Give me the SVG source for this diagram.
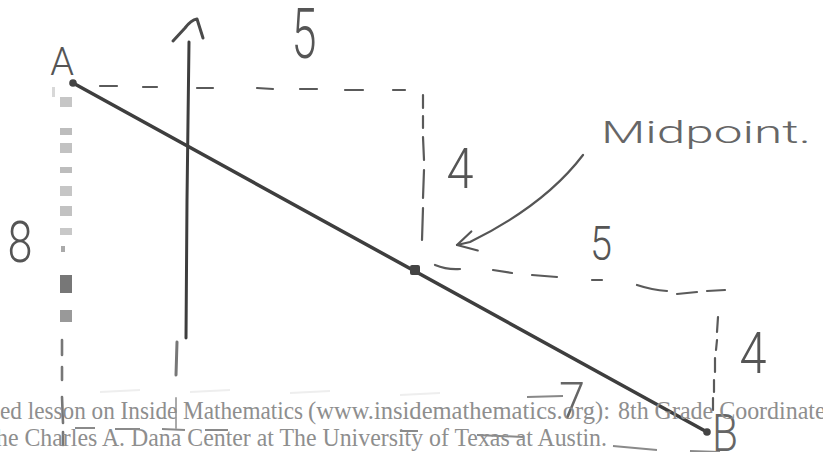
<svg xmlns="http://www.w3.org/2000/svg" width="823" height="452" viewBox="0 0 823 452">
  <style>
    .hand { font-family: Roboto, "Open Sans", "Liberation Sans", sans-serif; font-weight: 300; fill: #555; text-anchor: middle; }
    .soft { fill: #666; }
    .start { text-anchor: start; }
    .wm { font-family: "Liberation Serif", serif; font-size: 25px; fill: #8e8e8e; }
    .seg { fill: none; stroke: #3e3e3e; stroke-width: 3.5; stroke-linecap: round; }
    .dash { fill: none; stroke: #5a5a5a; stroke-width: 2.2; stroke-linecap: round; }
    .pt { fill: #444; }
    .blk { stroke: none; }
  </style>
  <defs>
    <marker id="chev" viewBox="0 0 24 26" refX="21" refY="12" markerWidth="24" markerHeight="26" markerUnits="userSpaceOnUse" orient="auto">
      <path d="M2,2 L21,12 L4,22" fill="none" stroke="#555" stroke-width="2.2" stroke-linecap="round" stroke-linejoin="round"/>
    </marker>
  </defs>
  <rect width="823" height="452" fill="#ffffff"/>

  <!-- left side "8" guide: dashed vertical -->
  <g id="left-guide">
    <rect class="blk" x="52" y="87" width="3" height="10" fill="#d8d8d8"/>
    <rect class="blk" x="60" y="97" width="12" height="10" fill="#c6c6c6"/>
    <rect class="blk" x="60" y="128" width="12" height="7" fill="#bdbdbd"/>
    <rect class="blk" x="60" y="143" width="12" height="10" fill="#c2c2c2"/>
    <rect class="blk" x="60" y="167" width="12" height="6" fill="#bdbdbd"/>
    <rect class="blk" x="60" y="186" width="12" height="10" fill="#c6c6c6"/>
    <rect class="blk" x="60" y="206" width="12" height="10" fill="#c2c2c2"/>
    <rect class="blk" x="60" y="228" width="12" height="7" fill="#c8c8c8"/>
    <rect class="blk" x="61" y="246" width="4" height="6" fill="#aaa"/>
    <rect class="blk" x="60" y="275" width="12" height="18" fill="#777"/>
    <rect class="blk" x="60" y="310" width="12" height="12" fill="#999"/>
    <path class="dash" d="M62,340 L62,355 M62,367 L62,380 M62,397 L63,423 M63,432 L63,445" style="stroke:#777;stroke-width:2.6"/>
    <text class="hand" x="20" y="262" font-size="58" textLength="25" lengthAdjust="spacingAndGlyphs">8</text>
  </g>

  <!-- vertical axis with arrow -->
  <g id="axis">
    <path class="seg" d="M189,42 L187,200 L186,338" style="stroke-width:3"/>
    <path class="seg" d="M177,342 L176,375" style="stroke:#777;stroke-width:3"/>
    <path class="seg" d="M176,398 L176,428" style="stroke:#aaa;stroke-width:2"/>
    <path d="M173,41 L185,28 Q191,20 197,19 L203,38" fill="none" stroke="#4a4a4a" stroke-width="3" stroke-linecap="round" stroke-linejoin="round"/>
  </g>

  <!-- faint lower marks -->
  <g id="faint">
    <path d="M100,392 L140,390 M190,392 L230,390 M290,393 L330,391 M400,395 L440,393" fill="none" stroke="#eeeeee" stroke-width="2"/>
    <path d="M527,397 L563,396" fill="none" stroke="#888" stroke-width="2"/>
    <path d="M75,428 L95,428 M115,429 L140,429 M162,429 L185,430 M205,430 L228,430 M400,431 L418,431 M477,435 L523,437 M613,446 L657,450 M690,451 L720,452" fill="none" stroke="#8a8a8a" stroke-width="2"/>
  </g>

  <!-- connectors: dashed guides and curved arrow -->
  <g id="connectors">
    <path class="dash" d="M100,86 L117,86 M143,87 L157,87 M197,88 L213,88 M257,88 L273,89 M300,89 L317,89 M345,90 L363,90 M393,90 L405,90"/>
    <path class="dash" d="M423,95 L423,108 M423,116 L423,128 M423,137 L424,160 M424,170 L423,198 M423,208 L422,240"/>
    <path class="dash" d="M435,265 Q447,270 460,269 M493,270 L512,273 M532,275 L557,277 M592,280 L602,280 M637,285 Q652,290 667,291 M677,294 L697,292 M707,291 L725,290"/>
    <path class="dash" d="M718,317 L717,332 M717,340 L716,350 M715,358 L715,372 M714,380 L714,392 M713,398 L713,410"/>
    <path d="M583,155 Q545,205 470,242 L457,245" fill="none" stroke="#555" stroke-width="2.2" stroke-linecap="round" marker-end="url(#chev)"/>
  </g>

  <!-- segment AB -->
  <g id="segment-AB">
    <line class="seg" x1="73" y1="83" x2="707" y2="432"/>
  </g>

  <g id="point-A">
    <circle class="pt" cx="73" cy="83" r="3.8"/>
    <text class="hand" x="62" y="75" font-size="38">A</text>
  </g>
  <g id="midpoint">
    <rect class="pt" x="410" y="265" width="10" height="10" rx="2"/>
    <text class="hand soft start" x="601" y="143" font-size="32" textLength="210" lengthAdjust="spacingAndGlyphs">Midpoint.</text>
  </g>
  <g id="point-B">
    <circle class="pt" cx="707" cy="432" r="3.8"/>
    <text class="hand soft" x="725" y="451" font-size="52" textLength="26" lengthAdjust="spacingAndGlyphs">B</text>
  </g>

  <g id="labels">
    <text class="hand" x="304" y="58" font-size="70" textLength="25" lengthAdjust="spacingAndGlyphs">5</text>
    <text class="hand" x="460" y="188" font-size="56" textLength="27" lengthAdjust="spacingAndGlyphs">4</text>
    <text class="hand" x="601" y="260" font-size="49" textLength="22" lengthAdjust="spacingAndGlyphs">5</text>
    <text class="hand" x="753" y="373" font-size="57" textLength="27" lengthAdjust="spacingAndGlyphs">4</text>
    <text class="hand soft" x="572" y="418" font-size="50" textLength="26" lengthAdjust="spacingAndGlyphs">7</text>
  </g>

  <g id="watermark">
    <text class="wm" x="0" y="419" textLength="303" lengthAdjust="spacingAndGlyphs">ed lesson on Inside Mathematics</text>
    <text class="wm" x="308" y="419" textLength="302" lengthAdjust="spacingAndGlyphs">(www.insidemathematics.org):</text>
    <text class="wm" x="618" y="419" textLength="217" lengthAdjust="spacingAndGlyphs">8th Grade Coordinates</text>
    <text class="wm" x="-4" y="446" textLength="611" lengthAdjust="spacingAndGlyphs">he Charles A. Dana Center at The University of Texas at Austin.</text>
  </g>
</svg>
